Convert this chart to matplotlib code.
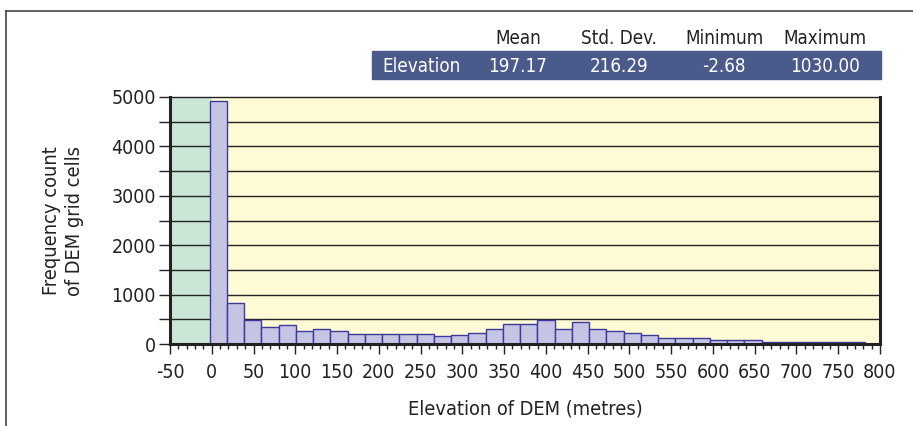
import numpy as np
import matplotlib.pyplot as plt
from matplotlib.patches import Rectangle
from matplotlib.lines import Line2D
from matplotlib.ticker import MultipleLocator

plt.rcParams['font.family'] = ['DejaVu Sans']
plt.rcParams['font.stretch'] = 'condensed'
plt.rcParams['axes.unicode_minus'] = False

# histogram of DEM elevations, 50 bins between min and max
elev_min = -2.68
elev_max = 1030.00
n_bins = 50
counts = [4925, 835, 485, 345, 390, 257, 297, 257, 209, 209, 209, 209, 209, 168,
          175, 216, 303, 398, 398, 479, 303, 439, 303, 257, 216, 175, 128, 128,
          128, 81, 81, 81, 40, 40, 40, 40, 40, 40]

stat_names = ['Mean', 'Std. Dev.', 'Minimum', 'Maximum']
stat_values = ['197.17', '216.29', '-2.68', '1030.00']
row_label = 'Elevation'

bin_w = (elev_max - elev_min) / n_bins
lefts = elev_min + bin_w * np.arange(len(counts))

fig = plt.figure(figsize=(9.13, 4.26), dpi=100)
ax = fig.add_axes([170 / 913, 82 / 426, 710 / 913, 247 / 426])

ax.axvspan(-50, 0, color='#cce6d6', zorder=0)
ax.axvspan(0, 800, color='#fffad6', zorder=0)
for yv in range(500, 5000, 500):
    ax.axhline(yv, color='#222222', lw=1.0, zorder=1)

ax.bar(lefts, counts, width=bin_w, align='edge', color='#c6c4e3',
       edgecolor='#3a3a9a', linewidth=1.0, zorder=2)

ax.set_xlim(-50, 800)
ax.set_ylim(0, 5000)
ax.xaxis.set_major_locator(MultipleLocator(50))
ax.xaxis.set_minor_locator(MultipleLocator(10))
ax.yaxis.set_major_locator(MultipleLocator(1000))
ax.yaxis.set_minor_locator(MultipleLocator(500))
ax.tick_params(axis='x', which='major', length=7, width=1, labelsize=14, pad=7, colors='#222222')
ax.tick_params(axis='x', which='minor', length=3.5, width=1, colors='#222222')
ax.tick_params(axis='y', which='major', length=8, width=1, labelsize=14, pad=2, colors='#222222')
ax.tick_params(axis='y', which='minor', length=8, width=1, colors='#222222')
for s in ['left', 'bottom', 'right']:
    ax.spines[s].set_linewidth(2.2)
    ax.spines[s].set_color('#222222')
ax.spines['top'].set_linewidth(1.0)
ax.spines['top'].set_color('#222222')

ax.set_xlabel('Elevation of DEM (metres)', fontsize=14.3, color='#222222', labelpad=12)
ax.set_ylabel('Frequency count\nof DEM grid cells', fontsize=14.3, color='#222222',
              labelpad=20, linespacing=1.25)

# stats header and band
fig.patches.append(Rectangle((372 / 913, 1 - 79 / 426), 509 / 913, 28 / 426,
                             transform=fig.transFigure, color='#4a5a8a', zorder=0))
fig.text(421 / 913, 1 - 66 / 426, row_label, color='white', fontsize=13.5,
         ha='center', va='center')
col_x = [518, 619, 724, 825]
for cx, name, val in zip(col_x, stat_names, stat_values):
    fig.text(cx / 913, 1 - 39 / 426, name, color='#222222', fontsize=13.5,
             ha='center', va='center')
    fig.text(cx / 913, 1 - 66 / 426, val, color='white', fontsize=13.5,
             ha='center', va='center')

# outer frame (top and left edges)
fig.lines.append(Line2D([6 / 913, 1], [1 - 11 / 426, 1 - 11 / 426],
                        transform=fig.transFigure, color='#444444', lw=1.2))
fig.lines.append(Line2D([6 / 913, 6 / 913], [0, 1 - 11 / 426],
                        transform=fig.transFigure, color='#444444', lw=1.2))

fig.savefig('out.png', dpi=100)
